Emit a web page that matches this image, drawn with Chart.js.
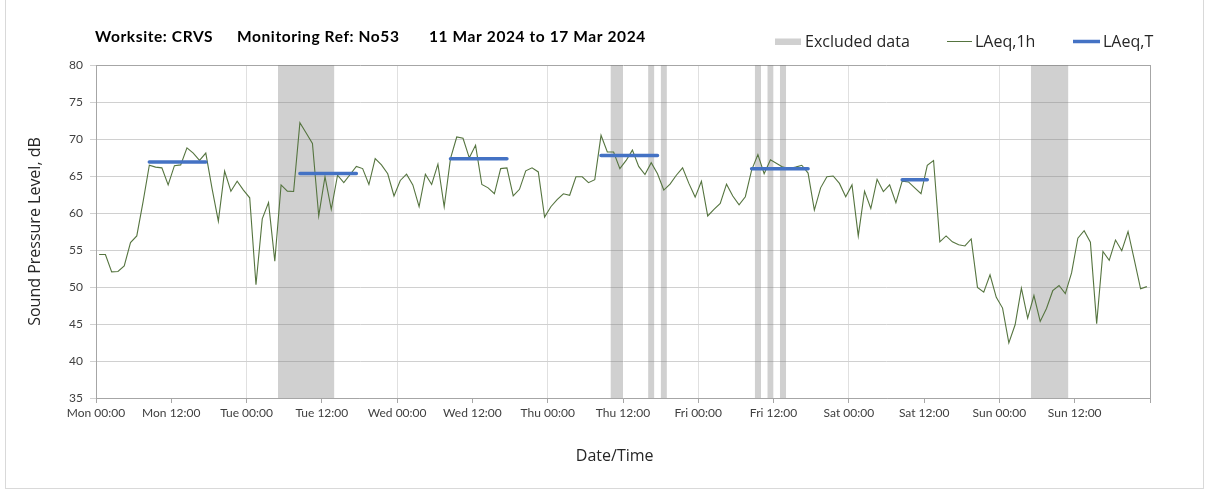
<!DOCTYPE html>
<html>
<head>
<meta charset="utf-8">
<script src="https://cdn.jsdelivr.net/npm/chart.js@4.4.1/dist/chart.umd.min.js"></script>
<style>
  html, body { margin: 0; padding: 0; background: #fff; }
  #wrap { position: relative; width: 1208px; height: 492px; }
  #frame { position: absolute; left: 5px; top: -1px; width: 1197px; height: 488px; border: 1px solid #d9d9d9; pointer-events: none; }
</style>
</head>
<body>
<div id="wrap">
  <canvas id="noiseChart" width="1208" height="492"></canvas>
  <div id="frame"></div>
</div>
<script>
// hourly LAeq,1h from Mon 00:00 (one value per hour, 168 h)
const laeq1h = [
  54.4, 54.4, 52.05, 52.1, 52.85, 56.0, 56.9, 61.5,
  66.45, 66.2, 66.1, 63.8, 66.4, 66.5, 68.8, 68.1,
  67.1, 68.1, 63.3, 58.9, 65.65, 62.95, 64.3, 63.1,
  62.05, 50.3, 59.2, 61.4, 53.5, 63.8, 62.95, 62.9,
  72.2, 70.8, 69.4, 59.6, 64.9, 60.5, 65.1, 64.1,
  65.2, 66.3, 66.0, 63.85, 67.35, 66.5, 65.3, 62.3,
  64.4, 65.25, 63.8, 60.85, 65.25, 63.85, 66.6, 60.85,
  67.35, 70.27, 70.1, 67.45, 69.15, 63.85, 63.4, 62.6,
  66.0, 66.1, 62.3, 63.2, 65.7, 66.1, 65.55, 59.45,
  60.85, 61.8, 62.6, 62.4, 64.9, 64.9, 64.1, 64.5,
  70.5, 68.25, 68.25, 66.0, 67.1, 68.5, 66.3, 65.2,
  66.8, 65.3, 63.1, 63.9, 65.1, 66.1, 64.0, 62.15,
  64.3, 59.6, 60.5, 61.3, 63.9, 62.3, 61.1, 62.2,
  65.8, 67.9, 65.3, 67.2, 66.7, 66.2, 66.0, 66.2,
  66.45, 65.4, 60.4, 63.4, 64.9, 65.0, 64.0, 62.2,
  63.8, 56.9, 62.95, 60.6, 64.55, 62.9, 63.8, 61.4,
  64.3, 64.2, 63.4, 62.6, 66.45, 67.1, 56.1, 56.9,
  56.1, 55.7, 55.55, 56.5, 49.95, 49.3, 51.65, 48.6,
  47.15, 42.45, 44.9, 49.85, 45.8, 48.85, 45.35, 47.1,
  49.5, 50.2, 49.1, 51.9, 56.6, 57.6, 56.05, 45.05,
  54.8, 53.6, 56.35, 54.9, 57.5, 53.65, 49.75, 50.05
];

// LAeq,T for each daytime period (hours from Mon 00:00)
const periodStart = [8.5, 32.5, 56.5, 80.5, 104.5, 128.5];
const periodEnd = [17.5, 41.5, 65.5, 89.5, 113.5, 132.5];
const laeqT = [66.9, 65.35, 67.33, 67.78, 65.97, 64.49];

// excluded data windows, hours from Mon 00:00
const excludedStart = [29, 82, 88, 90, 105, 107, 109, 149];
const excludedEnd = [38, 84, 89, 91, 106, 108, 110, 155];

const xTickLabels = ['Mon 00:00', 'Mon 12:00', 'Tue 00:00', 'Tue 12:00', 'Wed 00:00', 'Wed 12:00',
  'Thu 00:00', 'Thu 12:00', 'Fri 00:00', 'Fri 12:00', 'Sat 00:00', 'Sat 12:00', 'Sun 00:00', 'Sun 12:00', ''];

const titleParts = ['Worksite: CRVS', 'Monitoring Ref: No53', '11 Mar 2024 to 17 Mar 2024'];

const yMin = 35, yMax = 80;

// build point lists for the library
const hourlyPoints = laeq1h.map((v, i) => ({ x: i + 0.5, y: v }));

const periodPoints = [];
laeqT.forEach((v, i) => {
  periodPoints.push({ x: periodStart[i], y: v }, { x: periodEnd[i], y: v }, { x: periodEnd[i], y: null });
});

const excludedPoints = [];
excludedStart.forEach((s, i) => {
  excludedPoints.push({ x: s, y: yMax }, { x: excludedEnd[i], y: yMax }, { x: excludedEnd[i], y: null });
});

const tickFont = { family: 'Lato', size: 12 };
const axisTitleFont = { family: 'Open Sans', size: 16 };

// title + legend on the top row
const headerPlugin = {
  id: 'header',
  afterDraw(chart) {
    const ctx = chart.ctx;
    ctx.save();
    ctx.fillStyle = '#000';
    ctx.font = 'bold 15.5px Lato';
    ctx.letterSpacing = '0.6px';
    ctx.textBaseline = 'alphabetic';
    const titleX = [95, 237, 429];
    titleParts.forEach((t, i) => ctx.fillText(t, titleX[i], 42));
    ctx.letterSpacing = '0px';

    const ds = chart.data.datasets;
    ctx.font = '16px "Open Sans"';
    // Excluded data
    ctx.fillStyle = ds[0].backgroundColor;
    ctx.fillRect(775, 38.5, 26, 6.5);
    ctx.fillStyle = '#262626';
    ctx.fillText(ds[0].label, 805, 46.5);
    // LAeq,1h
    ctx.strokeStyle = ds[1].borderColor;
    ctx.lineWidth = 1;
    ctx.beginPath(); ctx.moveTo(947, 41.5); ctx.lineTo(972, 41.5); ctx.stroke();
    ctx.fillText(ds[1].label, 975, 46.5);
    // LAeq,T
    ctx.strokeStyle = ds[2].borderColor;
    ctx.lineWidth = 3.5;
    ctx.beginPath(); ctx.moveTo(1073, 41.5); ctx.lineTo(1100, 41.5); ctx.stroke();
    ctx.fillText(ds[2].label, 1103, 46.5);
    ctx.restore();
  }
};

const ctx = document.getElementById('noiseChart').getContext('2d');

const noiseChart = new Chart(ctx, {
  type: 'line',
  data: {
    datasets: [
      {
        label: 'Excluded data',
        data: excludedPoints,
        backgroundColor: 'rgba(128, 128, 128, 0.37)',
        borderWidth: 0,
        pointRadius: 0,
        fill: 'start',
        spanGaps: false,
        order: 3
      },
      {
        label: 'LAeq,1h',
        data: hourlyPoints,
        borderColor: '#55743f',
        borderWidth: 1.1,
        pointRadius: 0,
        tension: 0,
        fill: false,
        order: 2
      },
      {
        label: 'LAeq,T',
        data: periodPoints,
        borderColor: '#4472c4',
        borderWidth: 3.5,
        borderCapStyle: 'round',
        pointRadius: 0,
        fill: false,
        spanGaps: false,
        order: 1
      }
    ]
  },
  options: {
    responsive: false,
    animation: false,
    layout: { padding: { top: 65, right: 58, bottom: 0, left: 5 } },
    plugins: {
      legend: { display: false },
      tooltip: { enabled: false }
    },
    scales: {
      x: {
        type: 'linear',
        min: 0,
        max: 168,
        ticks: {
          stepSize: 12,
          autoSkip: false,
          maxRotation: 0,
          padding: 3,
          color: '#404040',
          font: tickFont,
          callback: (v, i) => xTickLabels[i]
        },
        grid: {
          color: c => {
            if (!c.tick) return 'rgba(0,0,0,0)';
            if (c.tick.value === 168) return '#a6a6a6';
            return c.tick.value % 24 === 0 ? '#e0e0e0' : 'rgba(0,0,0,0)';
          },
          tickColor: '#a6a6a6',
          tickLength: 5
        },
        border: { color: '#a6a6a6' },
        // trailing spaces nudge the centred title a little left, as in the original
        title: { display: true, text: 'Date/Time    ', color: '#262626', font: axisTitleFont, padding: { top: 0, bottom: 26.4 } },
        afterFit: s => { s.height = 94; }
      },
      y: {
        min: yMin,
        max: yMax,
        ticks: { stepSize: 5, padding: 7, color: '#404040', font: tickFont },
        grid: {
          color: c => (c.tick && c.tick.value === yMax ? '#a6a6a6' : '#d0d0d0'),
          tickColor: '#d0d0d0',
          tickLength: 6
        },
        border: { color: '#a6a6a6' },
        title: { display: true, text: 'Sound Pressure Level, dB', color: '#262626', font: axisTitleFont, padding: { top: 20.4, bottom: 0 } },
        afterFit: s => { s.width = 91; }
      }
    }
  },
  plugins: [headerPlugin]
});
</script>
</body>
</html>
